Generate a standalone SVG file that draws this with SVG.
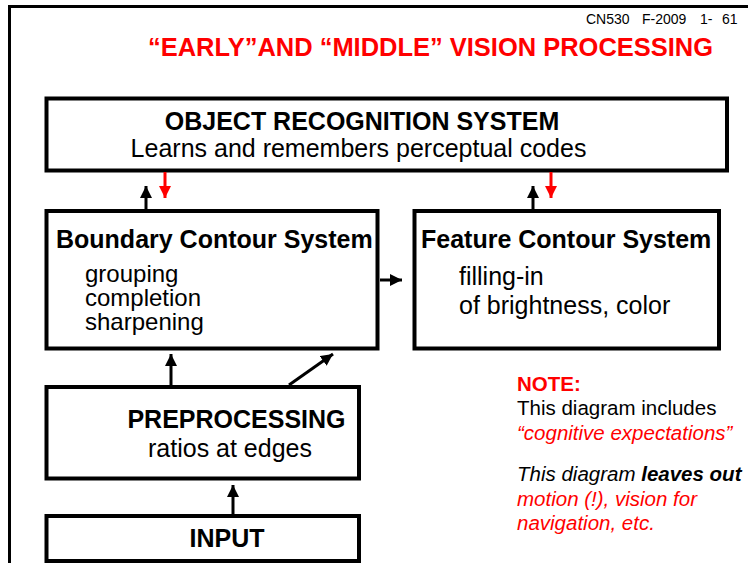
<svg xmlns="http://www.w3.org/2000/svg" width="748" height="563" viewBox="0 0 748 563">
<defs>
<style>
text{font-family:"Liberation Sans",Arial,sans-serif;}
.box{fill:#fff;stroke:#000;stroke-width:4;}
.hd{font-size:25px;font-weight:bold;fill:#000;}
.tx{font-size:25px;fill:#000;}
.ln{stroke:#000;stroke-width:3;fill:none;}
.lr{stroke:#f00;stroke-width:3;fill:none;}
.nt{font-size:20.5px;}
</style>
<marker id="ah" markerUnits="userSpaceOnUse" markerWidth="14" markerHeight="12" refX="12" refY="6" orient="auto"><path d="M0,0 L12,6 L0,12 Z" fill="#000"/></marker>
<marker id="ahr" markerUnits="userSpaceOnUse" markerWidth="14" markerHeight="12" refX="12" refY="6" orient="auto"><path d="M0,0 L12,6 L0,12 Z" fill="#f00"/></marker>
</defs>
<rect width="748" height="563" fill="#fff"/>
<path d="M9.5,563 V6.5 H748" stroke="#000" stroke-width="3" fill="none"/>
<text y="24" font-size="14" fill="#000"><tspan x="586">CN530</tspan><tspan x="642">F-2009</tspan><tspan x="700">1-</tspan><tspan x="722">61</tspan></text>
<text x="148" y="56" font-size="25" font-weight="bold" fill="#f00" textLength="565" lengthAdjust="spacingAndGlyphs">“EARLY”AND “MIDDLE” VISION PROCESSING</text>

<g id="ors">
<rect class="box" x="46.5" y="98.5" width="680.5" height="72"/>
<text class="hd" x="362" y="130" text-anchor="middle">OBJECT RECOGNITION SYSTEM</text>
<text class="tx" x="358.5" y="157" text-anchor="middle">Learns and remembers perceptual codes</text>
</g>
<g id="bcs">
<rect class="box" x="46.5" y="211" width="331" height="137.5"/>
<text class="hd" x="56" y="248">Boundary Contour System</text>
<text class="tx" font-size="24"><tspan x="85" y="282" style="font-size:24px">grouping</tspan><tspan x="85" y="306" style="font-size:24px">completion</tspan><tspan x="85" y="330" style="font-size:24px">sharpening</tspan></text>
</g>
<g id="fcs">
<rect class="box" x="414.5" y="211" width="304.5" height="137.5"/>
<text class="hd" x="421" y="248">Feature Contour System</text>
<text class="tx" x="459" y="285">filling-in</text>
<text class="tx" x="459" y="314">of brightness, color</text>
</g>
<g id="pre">
<rect class="box" x="46.5" y="387" width="312.5" height="91.5"/>
<text class="hd" x="236.5" y="428" text-anchor="middle">PREPROCESSING</text>
<text class="tx" x="230" y="457" text-anchor="middle">ratios at edges</text>
</g>
<g id="input">
<rect class="box" x="46.5" y="516" width="312.5" height="45"/>
<text class="hd" x="227" y="547" text-anchor="middle">INPUT</text>
</g>
<g id="note">
<text class="nt" x="517" y="391" font-weight="bold" fill="#f00">NOTE:</text>
<text class="nt" x="517" y="415" fill="#000">This diagram includes</text>
<text class="nt" x="517" y="440" font-style="italic" fill="#f00">“cognitive expectations”</text>
<text class="nt" x="517" y="481" font-style="italic" fill="#000">This diagram <tspan font-weight="bold">leaves out</tspan></text>
<text class="nt" x="517" y="506" font-style="italic" fill="#f00">motion (!), vision for</text>
<text class="nt" x="517" y="530" font-style="italic" fill="#f00">navigation, etc.</text>
</g>
<g id="connectors">
<path class="ln" d="M146,209 V186" marker-end="url(#ah)"/>
<path class="lr" d="M165,172 V198" marker-end="url(#ahr)"/>
<path class="ln" d="M533,209 V186" marker-end="url(#ah)"/>
<path class="lr" d="M551,172 V198" marker-end="url(#ahr)"/>
<path class="ln" d="M380,280 H402" marker-end="url(#ah)"/>
<path class="ln" d="M171,385 V354" marker-end="url(#ah)"/>
<path class="ln" d="M289,385 L333,354" marker-end="url(#ah)"/>
<path class="ln" d="M233,514 V485" marker-end="url(#ah)"/>
</g>
</svg>
